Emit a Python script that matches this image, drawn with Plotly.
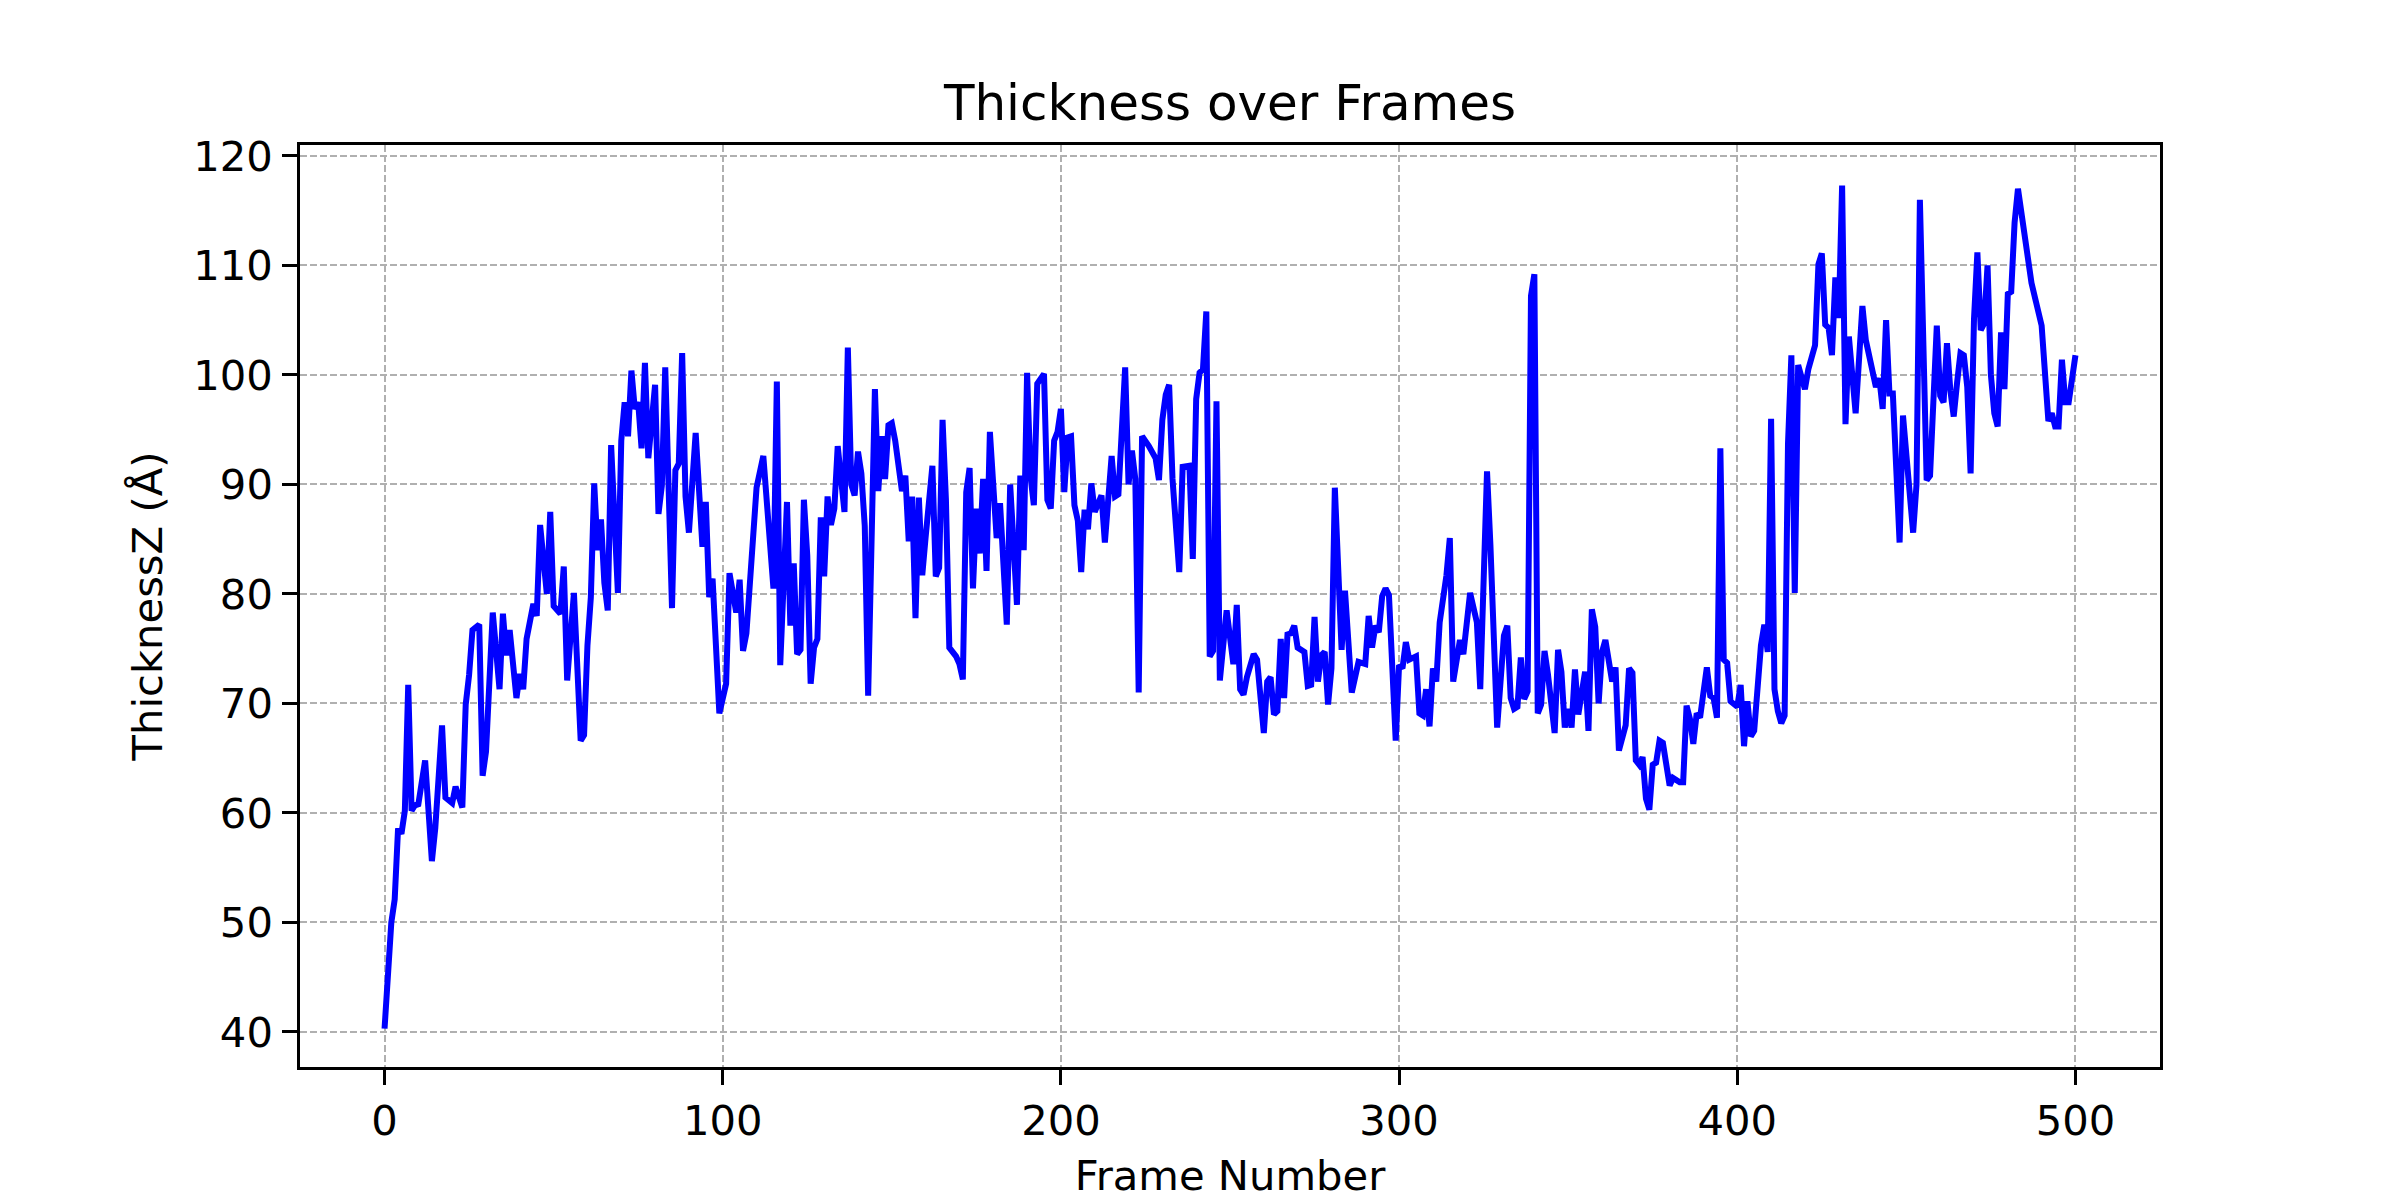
import plotly.graph_objects as go

frames = [0, 1, 2, 3, 4, 5, 6, 7, 8, 9, 10, 12, 14, 15, 17, 18, 20, 21, 23, 24, 25, 26, 28, 29, 30,
          32, 34, 35, 36, 37, 39, 40, 41, 42, 44, 45, 46, 48, 49, 50, 52, 53, 54, 56, 58, 59, 60,
          61, 62, 63, 64, 65, 66, 67, 69, 70, 71, 72, 73, 74, 75, 76, 77, 78, 80, 81, 82, 83, 85,
          86, 87, 88, 89, 90, 92, 94, 95, 96, 97, 99, 101, 102, 104, 105, 106, 107, 110, 112, 115,
          116, 117, 119, 120, 121, 122, 123, 124, 125, 126, 127, 128, 129, 130, 131, 132, 133, 134,
          136, 137, 138, 139, 140, 141, 142, 143, 145, 146, 147, 148, 149, 150, 151, 153, 154, 155,
          156, 157, 158, 159, 160, 162, 163, 164, 165, 166, 167, 169, 170, 171, 172, 173, 174, 175,
          176, 177, 178, 179, 181, 182, 184, 185, 187, 188, 189, 190, 191, 192, 193, 195, 196, 197,
          198, 199, 200, 201, 202, 203, 204, 205, 206, 207, 208, 209, 210, 212, 213, 215, 216, 217,
          219, 220, 221, 222, 223, 224, 226, 228, 229, 230, 231, 232, 233, 235, 236, 238, 239, 240,
          241, 242, 243, 244, 245, 246, 247, 249, 251, 252, 253, 254, 255, 257, 258, 260, 261, 262,
          263, 264, 265, 266, 267, 268, 269, 270, 272, 273, 274, 275, 276, 277, 278, 279, 280, 281,
          283, 284, 286, 288, 290, 291, 292, 293, 294, 295, 296, 297, 299, 300, 301, 302, 303, 305,
          306, 307, 308, 309, 310, 311, 312, 314, 315, 316, 318, 319, 321, 323, 324, 325, 326, 327,
          329, 331, 332, 333, 334, 335, 336, 337, 338, 339, 340, 341, 342, 343, 344, 346, 347, 348,
          349, 350, 351, 352, 353, 355, 356, 357, 358, 359, 360, 361, 363, 364, 365, 367, 368, 369,
          370, 371, 372, 373, 374, 375, 376, 377, 378, 380, 381, 383, 384, 385, 386, 387, 388, 389,
          391, 392, 393, 394, 395, 396, 397, 398, 399, 400, 401, 402, 403, 404, 405, 407, 408, 409,
          410, 411, 412, 413, 414, 415, 416, 417, 418, 420, 421, 423, 424, 425, 426, 427, 428, 429,
          430, 431, 432, 433, 435, 437, 438, 441, 442, 443, 444, 445, 446, 448, 449, 450, 452, 453,
          454, 456, 457, 459, 460, 461, 462, 463, 464, 465, 466, 467, 468, 469, 470, 471, 472, 473,
          474, 475, 476, 477, 478, 479, 480, 481, 482, 483, 487, 490, 492, 493, 494, 495, 496, 497,
          498, 500]

thickness = [40.3, 46.1, 50.0, 52.1, 58.6, 58.1, 60.2, 71.7, 60.2, 60.7, 60.8, 64.8, 55.6, 58.6, 68.0,
             61.4, 60.9, 62.4, 60.5, 69.9, 72.6, 76.7, 77.2, 63.4, 65.6,
             78.3, 71.3, 78.2, 74.4, 76.7, 70.5, 72.7, 71.3, 75.9, 79.1, 78.0, 86.3, 80.0, 87.5, 78.9,
             78.2, 82.5, 72.1, 80.1, 66.6, 67.1, 75.3,
             79.7, 90.1, 84.0, 86.8, 81.0, 78.5, 93.6, 80.1, 94.0, 97.5, 94.4, 100.4, 96.9, 97.5, 93.3,
             101.1, 92.4, 99.1, 87.3, 89.9, 100.7, 78.7,
             91.3, 91.9, 102.0, 88.9, 85.6, 94.7, 84.3, 88.4, 79.7, 81.4, 69.1, 71.8, 81.9, 78.3, 81.3,
             74.8, 76.4, 89.7, 92.6, 80.5,
             99.4, 73.5, 88.4, 77.1, 82.8, 74.5, 74.9, 88.6, 83.5, 71.8, 75.1, 75.9, 87.0, 81.6, 88.9,
             86.3, 87.8, 93.5,
             87.5, 102.5, 90.0, 89.0, 93.0, 91.0, 86.2, 70.7, 98.7, 89.4, 94.4, 90.5, 95.4, 95.6, 94.0,
             89.4, 90.8, 84.8,
             88.9, 77.8, 88.8, 81.7, 85.2, 91.7, 81.6, 82.4, 95.9, 88.6, 75.1, 74.3, 73.6, 72.2, 89.3,
             91.5, 80.5, 87.8,
             83.7, 90.5, 82.1, 94.8, 85.1, 88.3, 77.2, 90.0, 79.0, 90.8, 84.0, 100.2, 90.8, 88.1, 99.2,
             100.1, 88.6, 87.8,
             94.0, 94.8, 96.9, 89.3, 94.3, 94.4, 88.1, 86.7, 82.0, 87.7, 85.9, 90.1, 87.5, 89.0, 84.7,
             92.6, 88.9, 89.1,
             100.7, 90.0, 93.1, 90.5, 71.0, 94.4, 93.5, 92.4, 90.4, 95.9, 98.2, 99.1, 90.5, 82.0, 91.6,
             91.7, 83.2, 97.8,
             100.2, 100.5, 105.8, 74.3, 74.8, 97.6, 72.1, 78.5, 73.6, 79.0, 71.3, 70.8, 72.4, 74.5,
             74.0, 67.3, 72.0, 72.4,
             69.0, 69.3, 75.9, 70.5, 76.3, 76.4, 77.1, 75.1, 74.7, 71.6, 71.7, 77.9, 72.0, 74.4, 74.7,
             69.9, 73.2, 89.7,
             74.9, 80.3, 71.0, 73.8, 73.6, 78.0, 75.1, 77.1, 76.5, 79.8, 80.5, 79.9, 66.6, 73.5, 73.2,
             75.6, 74.0, 74.3,
             69.1, 68.9, 71.3, 67.9, 73.2, 72.0, 77.4, 81.7, 85.1, 72.0, 75.8, 74.5, 80.1, 77.4, 71.3,
             83.5, 91.2, 84.5,
             67.8, 76.2, 77.1, 70.5, 69.5, 69.7, 74.2, 70.4, 71.1, 107.2, 109.2, 69.1, 69.9, 74.8,
             72.7, 67.3, 74.9, 72.9,
             67.8, 69.5, 67.8, 73.1, 69.0, 72.9, 67.5, 78.6, 77.0, 70.0, 74.7, 75.8, 72.0, 73.3, 65.7,
             68.0, 73.2, 72.8,
             64.8, 64.4, 65.1, 61.3, 60.3, 64.4, 64.6, 66.6, 66.4, 62.5, 63.2, 62.8, 62.8, 69.8, 68.6,
             66.3, 69.1, 68.7,
             73.3, 70.7, 70.5, 68.7, 93.3, 74.0, 73.7, 70.2, 70.0, 69.7, 71.7, 66.1, 70.2, 67.0, 67.5,
             75.3, 77.2, 74.7,
             96.0, 71.3, 69.3, 68.2, 68.9, 93.7, 101.8, 80.1, 100.9, 98.7, 100.5, 102.7, 110.1, 111.1,
             104.6, 104.3, 101.8, 108.9,
             105.2, 117.3, 95.5, 103.5, 96.5, 106.3, 103.2, 98.9, 99.7, 96.9, 105.0, 98.3, 98.3, 84.7,
             96.3, 92.4, 85.6, 90.0,
             116.0, 90.4, 90.8, 104.5, 98.1, 97.5, 102.9, 98.6, 96.2, 99.3, 102.0, 101.8, 98.9, 91.0,
             105.1, 111.2, 104.1, 104.7,
             110.0, 100.0, 96.5, 95.3, 103.9, 98.7, 107.4, 107.6, 113.9, 117.0, 108.4, 104.5, 95.8,
             96.5, 95.3, 95.3, 101.4, 97.5,
             97.5, 101.8]

x_ticks = [0, 100, 200, 300, 400, 500]
y_ticks = [40, 50, 60, 70, 80, 90, 100, 110, 120]

FONT = "DejaVu Sans"
TICK_SIZE = 41.7
LABEL_SIZE = 41.7
TITLE_SIZE = 50

fig = go.Figure()
fig.add_trace(go.Scatter(
    x=frames, y=thickness, mode="lines",
    line=dict(color="#0000ff", width=6),
    showlegend=False,
))

axis_common = dict(
    showline=True, linecolor="black", linewidth=3.3, mirror=True,
    ticks="outside", ticklen=14.6, tickwidth=3.3, tickcolor="black",
    showgrid=True, gridcolor="#b0b0b0", gridwidth=2, griddash="7px,3px",
    zeroline=False,
    tickfont=dict(family=FONT, size=TICK_SIZE, color="black"),
)

fig.update_layout(
    width=2400, height=1200,
    margin=dict(l=300, r=240, t=145, b=133, autoexpand=False),
    paper_bgcolor="white", plot_bgcolor="white",
    font=dict(family=FONT, color="black"),
    title=dict(
        text="Thickness over Frames",
        font=dict(family=FONT, size=TITLE_SIZE, color="black"),
        x=0.5, xref="paper", xanchor="center",
        y=1 - 102 / 1200, yref="container", yanchor="middle",
    ),
    xaxis=dict(
        range=[-25, 525], tickvals=x_ticks, ticklabelstandoff=0,
        title=dict(text="Frame Number", font=dict(family=FONT, size=LABEL_SIZE, color="black"),
                   standoff=26),
        **axis_common,
    ),
    yaxis=dict(
        range=[36.8, 121.0], tickvals=y_ticks, ticklabelstandoff=1,
        title=dict(text="ThicknessZ (Å)", font=dict(family=FONT, size=LABEL_SIZE, color="black"),
                   standoff=18),
        **axis_common,
    ),
)

fig.write_html("out.html", config={"displayModeBar": False},
               post_script="document.body.style.margin='0';")
